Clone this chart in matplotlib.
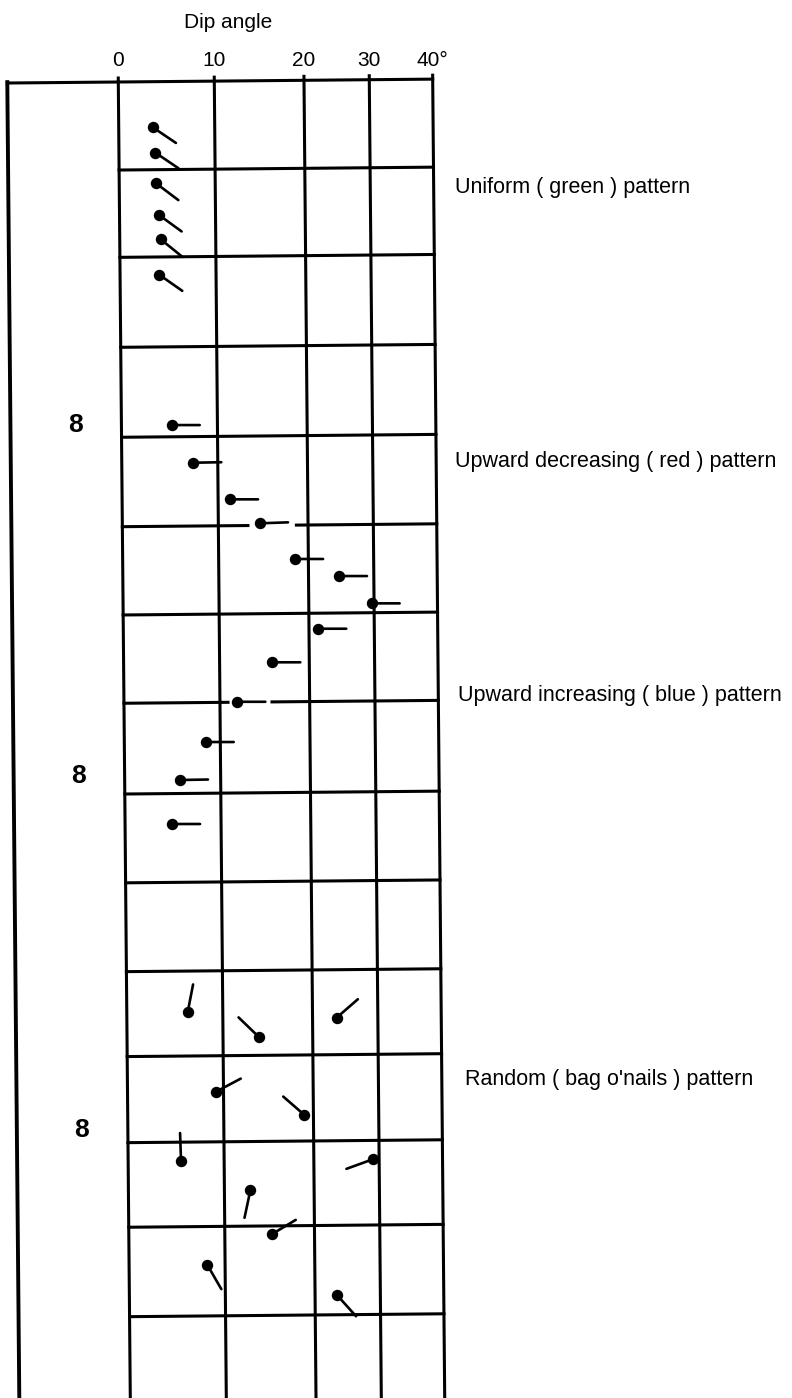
import numpy as np
import matplotlib.pyplot as plt
from matplotlib.transforms import Affine2D

plt.rcParams['font.family'] = ['Liberation Sans', 'DejaVu Sans']

W, H = 792, 1398

# dip scale of the log (grid columns are not equal width)
dip_ticks = [0, 10, 20, 30, 40]
dip_labels = ['0', '10', '20', '30', '40°']
col_pos = [0, 96, 185.7, 251, 314.4]

# depth (ft from top of the chart) of the horizontal grid lines, as drafted
grid_depths = [0, 9.98, 19.88, 30.08, 40.28, 50.42, 60.43, 70.44, 80.73,
               90.8, 100.87, 110.5, 120.26, 129.85, 139.99]
# grid lines broken where a tadpole sits on them
grid_gaps = {5: (13.3, 18.7), 7: (10.9, 15.8)}

# depth track marks
mark_depths = [38.8, 78.6, 118.8]
mark_labels = ['8', '8', '8']

# tadpoles: dip (deg), depth (ft), dip azimuth (deg from north)
green_dip = [3.54, 3.79, 3.83, 4.11, 4.27, 4.09]
green_depth = [5.17, 8.05, 11.52, 15.12, 17.88, 21.9]
green_azi = [124, 124, 127, 126, 129, 125]

red_dip = [5.24, 7.45, 11.33, 14.65, 18.52, 24.67, 29.63]
red_depth = [38.95, 43.24, 47.43, 50.18, 54.26, 56.24, 59.37]
red_azi = [90, 89, 90, 88, 90, 90, 90]

blue_dip = [21.42, 15.88, 11.94, 8.48, 5.76, 4.89]
blue_depth = [62.19, 65.95, 70.39, 74.92, 79.2, 84.18]
blue_azi = [90, 90, 90, 90, 89, 90]

bag_dip = [6.35, 13.98, 23.7, 9.22, 18.99, 5.51, 29.02, 12.89, 15.23, 8.15, 23.41]
bag_depth = [105.5, 108.4, 106.3, 114.58, 117.3, 122.4, 122.4, 125.8, 130.8, 134.2, 137.8]
bag_azi = [11, 314, 49, 62, 311, 358, 250, 192, 59, 150, 138]

pattern_names = ['Uniform ( green ) pattern',
                 'Upward decreasing ( red ) pattern',
                 'Upward increasing ( blue ) pattern',
                 "Random ( bag o'nails ) pattern"]
name_pos = [(455, 188), (455, 462), (458, 695), (465, 1080)]

tail = 28 * 72 / 100  # tail length in points
lw = 2.2

fig = plt.figure(figsize=(W / 100, H / 100), dpi=100)
top = 82
ax = fig.add_axes([118.3 / W, 0, 314.4 / W, (H - top) / H])
ax2 = fig.add_axes([7.3 / W, 0, 111 / W, (H - top) / H])
ax.patch.set_visible(False)
ax2.patch.set_visible(False)

ax.set_xscale('function', functions=(lambda x: np.interp(x, dip_ticks, col_pos),
                                     lambda p: np.interp(p, col_pos, dip_ticks)))
ax.set_xlim(0, 40)
zmax = (H - top) / 8.82
ax.set_ylim(zmax, 0)
ax2.set_xlim(0, 1)
ax2.set_ylim(zmax, 0)

# the scanned sheet is turned a little, rotate everything about the top left corner
cx, cy = ax.transAxes.transform((0, 1))
rot = Affine2D().rotate_deg_around(cx, cy, np.degrees(np.arctan(12 / 1316)))
tr = ax.transData + rot
tr2 = ax2.transData + rot

# grid
for d in dip_ticks:
    ax.plot([d, d], [-0.45, zmax + 3], color='k', lw=lw, transform=tr, clip_on=False)
for i, z in enumerate(grid_depths):
    segs = [(0, 40)]
    if i in grid_gaps:
        segs = [(0, grid_gaps[i][0]), (grid_gaps[i][1], 40)]
    for a, b in segs:
        ax.plot([a, b], [z, z], color='k', lw=lw, transform=tr, clip_on=False)

ax2.plot([0, 0], [-0.1, zmax + 3], color='k', lw=2.8, transform=tr2, clip_on=False)
ax2.plot([0, 1], [0, 0], color='k', lw=lw, transform=tr2, clip_on=False)
for z, s in zip(mark_depths, mark_labels):
    ax2.text(0.583, z, s, transform=tr2, ha='center', va='center',
             fontsize=19, fontweight='bold')


def tadpoles(dips, depths, azis):
    for d, z, a in zip(dips, depths, azis):
        ax.annotate('', xy=(d, z), xycoords=tr,
                    xytext=(tail * np.sin(np.radians(a)), tail * np.cos(np.radians(a))),
                    textcoords='offset points',
                    arrowprops=dict(arrowstyle='-', lw=1.9, color='k',
                                    shrinkA=0, shrinkB=0))
    ax.plot(dips, depths, 'o', ms=7.2, color='k', transform=tr, clip_on=False, zorder=5)


tadpoles(green_dip, green_depth, green_azi)
tadpoles(red_dip, red_depth, red_azi)
tadpoles(blue_dip, blue_depth, blue_azi)
tadpoles(bag_dip, bag_depth, bag_azi)

for s, (x, y) in zip(pattern_names, name_pos):
    fig.text(x / W, 1 - y / H, s, ha='left', va='center', fontsize=15.5)

ax.xaxis.tick_top()
ax.set_xticks(dip_ticks, dip_labels)
ax.tick_params(axis='x', length=0, pad=9, labelsize=15)
ax.set_yticks([])
ax.xaxis.set_label_position('top')
ax.set_xlabel('Dip angle', fontsize=15)
ax.xaxis.set_label_coords(0.349, 1.041)
for a in (ax, ax2):
    for sp in a.spines.values():
        sp.set_visible(False)
ax2.set_xticks([])
ax2.set_yticks([])

fig.savefig('out.png', dpi=100)
